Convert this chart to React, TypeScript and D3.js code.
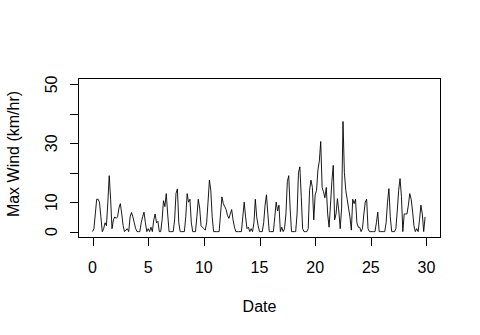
import React from "react";
import * as d3 from "d3";

// 3-hourly maximum wind (km/hr), 8 samples per day, days 0..29
const wind: number[] = [
  0, 1, 6, 11, 11, 10, 5, 0,
  1, 3, 2, 10, 19, 11, 1, 4,
  5, 4.5, 5, 8, 9.5, 6, 2, 0,
  0.5, 1, 0, 5, 6.5, 5, 3, 1,
  0, 0, 0, 3, 5, 6.6, 3, 0,
  1, 0, 1.5, 0, 4, 6, 3, 3.5,
  0, 0, 4, 10.5, 8.5, 12.9, 6, 0,
  0, 0, 0, 4, 13, 14.5, 3, 0,
  0, 0, 0, 5, 12.9, 10, 11, 3,
  0, 0, 0, 5, 11, 8, 2, 1.5,
  1, 0.5, 3, 10, 17.5, 14, 5, 0,
  0, 0, 0, 0, 6, 11.8, 9.5, 8.5,
  7.5, 5.5, 4.5, 6, 7.5, 4, 1.5, 0,
  0, 0, 0, 0, 5, 10, 5, 1,
  1.5, 0, 1, 0, 3, 11, 5, 2,
  0, 0, 0, 3, 9, 12.5, 6, 0,
  0, 0, 0, 5, 10, 7, 9, 0,
  1.5, 0, 1, 6, 17, 19, 8, 0,
  0, 0, 0, 6, 20, 22, 12, 1,
  0, 0, 0, 1, 14, 17.5, 15, 4,
  12.5, 14, 21, 24, 30.6, 15, 13.5, 11.5,
  15, 6, 1.5, 9, 17, 22.5, 4, 6,
  11.2, 7, 1, 8, 37.4, 20, 14, 11,
  8, 5, 0.5, 11, 9.5, 11, 3, 1.5,
  1.5, 0, 1, 6, 10, 11, 1, 0,
  0, 0, 0, 0, 3, 6.6, 0, 0,
  0, 0, 0, 3, 10, 14.6, 5, 0,
  0, 0, 1, 7, 14, 18, 12, 0,
  6, 6, 6, 9, 12.9, 11, 7, 2,
  0, 1, 0, 4, 9, 6, 0, 5,
];
const samplesPerDay = 8;

const xTicks: number[] = [0, 5, 10, 15, 20, 25, 30];
const yTicks: number[] = [0, 10, 20, 30, 40, 50];
const yTickLabels: string[] = ["0", "10", "", "30", "", "50"];
const xTitle = "Date";
const yTitle = "Max Wind (km/hr)";

export default function App() {
  const W = 480;
  const H = 335;
  const left = 78.5, right = 440.5, top = 78.5, bottom = 237.5;
  const x = d3.scaleLinear().domain([-1.26, 31.26]).range([left, right]);
  const y = d3.scaleLinear().domain([-2, 52]).range([bottom, top]);
  const pts: [number, number][] = wind.map((v, i) => [i / samplesPerDay, v]);
  const line = d3
    .line<[number, number]>()
    .x((d) => x(d[0]))
    .y((d) => y(d[1]));
  const font = "'Liberation Sans', Arial, sans-serif";
  const tick = 8.5;
  return (
    <svg
      width={W}
      height={H}
      style={{ position: "absolute", left: 0, top: 0, background: "#fff" }}
      fontFamily={font}
    >
      <rect x={0} y={0} width={W} height={H} fill="#fff" />
      <path d={line(pts) || ""} fill="none" stroke="#000" strokeWidth={0.9} />
      <rect
        x={left}
        y={top}
        width={right - left}
        height={bottom - top}
        fill="none"
        stroke="#000"
        strokeWidth={1}
      />
      {xTicks.map((t) => (
        <g key={"x" + t}>
          <line
            x1={Math.round(x(t)) + 0.5}
            x2={Math.round(x(t)) + 0.5}
            y1={bottom}
            y2={bottom + tick}
            stroke="#000"
          />
          <text x={x(t)} y={272.5} fontSize={16} textAnchor="middle" fill="#000">
            {t}
          </text>
        </g>
      ))}
      {yTicks.map((t, i) => (
        <g key={"y" + t}>
          <line
            x1={left - tick}
            x2={left}
            y1={Math.round(y(t)) + 0.5}
            y2={Math.round(y(t)) + 0.5}
            stroke="#000"
          />
          {yTickLabels[i] && (
            <text
              transform={`translate(57,${y(t)}) rotate(-90)`}
              fontSize={16}
              textAnchor="middle"
              fill="#000"
            >
              {yTickLabels[i]}
            </text>
          )}
        </g>
      ))}
      <text x={(left + right) / 2} y={311.5} fontSize={16} textAnchor="middle" fill="#000">
        {xTitle}
      </text>
      <text
        transform={`translate(19,${(top + bottom) / 2 - 4}) rotate(-90)`}
        fontSize={16}
        textAnchor="middle"
        fill="#000"
      >
        {yTitle}
      </text>
    </svg>
  );
}
